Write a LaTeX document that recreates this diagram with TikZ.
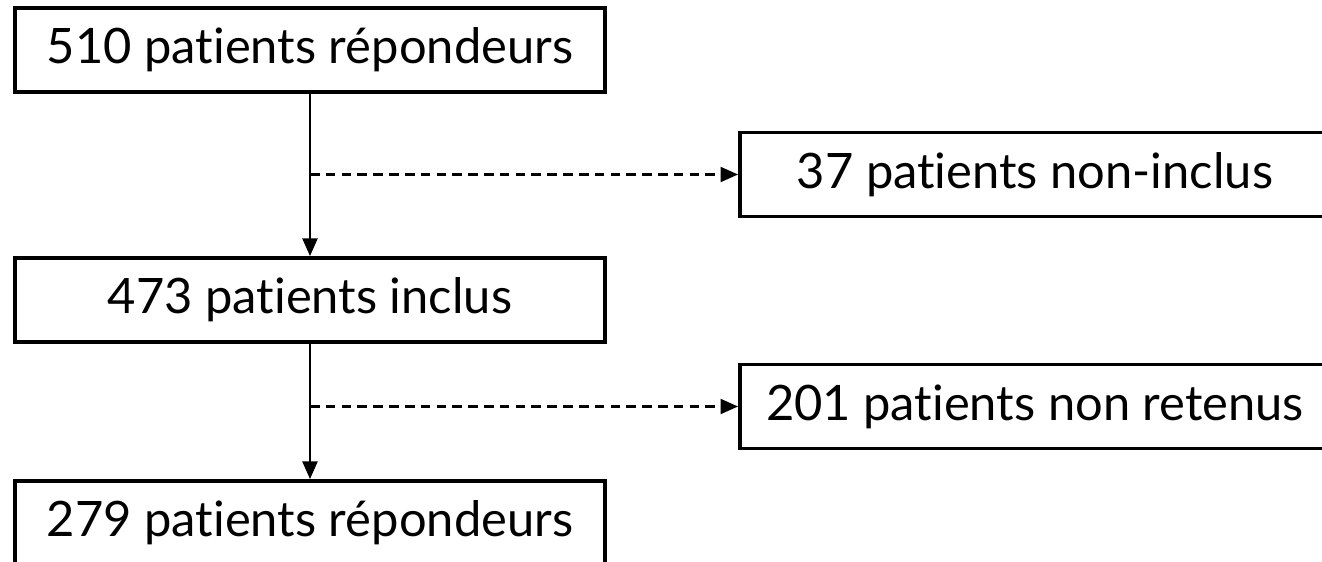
\documentclass[tikz,border=0pt]{standalone}
\usepackage{fontspec}
\setmainfont{Lato}[Ligatures=NoCommon]
\usetikzlibrary{arrows.meta}

\begin{document}
\begin{tikzpicture}[
    flowbox/.style={draw, line width=2.2pt, minimum width=11.8cm, minimum height=1.68cm,
        inner sep=0pt, font=\fontsize{27.8}{32}\selectfont},
    mainarrow/.style={line width=1.3pt, -{Triangle[length=10pt,width=8.5pt]}},
    sidearrow/.style={mainarrow, dash pattern=on 5.5pt off 3.5pt}
]
\clip (0,0) rectangle (26.44,-11.24);
%
\node[flowbox] (repondeurs) at (6.2,-1.0) {510 patients répondeurs};
\node[flowbox] (inclus) at (6.2,-6.0) {473 patients inclus};
\node[flowbox] (final) at (6.2,-10.46) {279 patients répondeurs};
%
\node[flowbox] (noninclus) at (20.7,-3.49) {37 patients non-inclus};
\node[flowbox] (nonretenus) at (20.7,-8.13) {201 patients non retenus};
%
\coordinate (split1) at (repondeurs.south |- noninclus.west);
\coordinate (split2) at (inclus.south |- nonretenus.west);
%
\draw[mainarrow] (repondeurs.south) -- (inclus.north);
\draw[mainarrow] (inclus.south) -- (final.north);
\draw[sidearrow] (split1) -- (noninclus.west);
\draw[sidearrow] (split2) -- (nonretenus.west);
\end{tikzpicture}
\end{document}
